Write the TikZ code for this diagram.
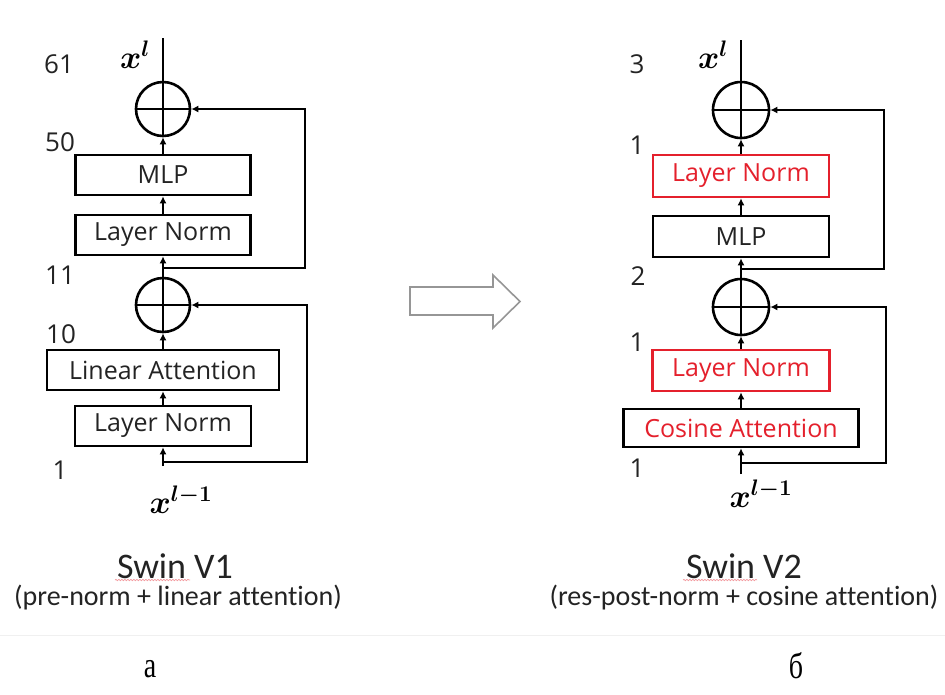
\documentclass[tikz,border=0pt]{standalone}
\usepackage{fontspec}
\usepackage{graphicx}
\usetikzlibrary{arrows.meta,decorations.pathmorphing}
\newfontfamily\boxfont{Open Sans}
\newfontfamily\capfont[Ligatures=CommonOff]{Carlito}
\newfontfamily\cyrfont{Liberation Serif}
\definecolor{normred}{RGB}{228,32,44}
\definecolor{boxtext}{RGB}{35,35,35}
\definecolor{arrowgray}{RGB}{150,150,150}
\newcommand{\bigvec}[1]{\scalebox{1.3}{\boldmath$#1$}}
\tikzset{
  wire/.style={line width=2.4pt, draw=black},
  flow/.style={wire, -{Latex[length=7pt,width=7pt]}},
  blockbox/.style={draw=black, line width=2.6pt, rectangle, inner sep=0pt,
    text=boxtext, font=\boxfont\fontsize{25}{30}\selectfont},
  redbox/.style={blockbox, draw=normred, text=normred},
  redtext/.style={blockbox, text=normred},
  adder/.style={draw=black, line width=2.6pt, circle, inner sep=0pt, minimum size=54pt},
  layerno/.style={text=boxtext, font=\boxfont\fontsize{26}{30}\selectfont, inner sep=0pt},
  vec/.style={font=\fontsize{24}{28}\selectfont, inner sep=0pt},
  title/.style={text=boxtext, font=\capfont\fontsize{36}{40}\selectfont, inner sep=0pt},
  subtitle/.style={text=boxtext, font=\capfont\fontsize{28}{32}\selectfont, inner sep=0pt},
  panel/.style={font=\cyrfont\fontsize{28}{32}\selectfont, inner sep=0pt},
  squiggle/.style={draw=normred!45, line width=0.7pt, decorate,
    decoration={snake, amplitude=0.7pt, segment length=3pt}}
}
\begin{document}
\begin{tikzpicture}[x=1pt,y=-1pt]
\useasboundingbox (0,0) rectangle (945,694);

% ---------- Swin V1 block: pre-norm ----------
\node[adder] (c1) at (163,109) {};
\node[blockbox, minimum width=175pt, minimum height=40pt] (mlp1) at (163,175) {MLP};
\node[blockbox, minimum width=175pt, minimum height=40pt] (ln1) at (163,235) {Layer Norm};
\node[adder] (c2) at (163,305) {};
\node[blockbox, minimum width=232pt, minimum height=40pt] (att1) at (163,370) {Linear Attention};
\node[blockbox, minimum width=176pt, minimum height=40pt] (ln2) at (163,426) {Layer Norm};

\coordinate (top1) at (163,38);
\coordinate (in1) at (163,466);
\coordinate (b1) at (163,268);
\coordinate (r1) at (305,268);
\coordinate (r1t) at (305,109);
\coordinate (b2) at (163,462);
\coordinate (r2) at (307,462);
\coordinate (r2t) at (307,305);

\draw[wire] (c1.south) -- (top1);
\draw[wire] (c1.west) -- (c1.east);
\draw[wire] (c2.south) -- (c2.north);
\draw[wire] (c2.west) -- (c2.east);
\draw[flow] (mlp1.north) -- (c1.south);
\draw[flow] (ln1.north) -- (mlp1.south);
\draw[flow] (c2.north) -- (ln1.south);
\draw[flow] (att1.north) -- (c2.south);
\draw[flow] (ln2.north) -- (att1.south);
\draw[flow] (in1) -- (ln2.south);
\draw[flow] (b1) -- (r1) -- (r1t) -- (c1.east);
\draw[flow] (b2) -- (r2) -- (r2t) -- (c2.east);

\node[layerno] (n61) at (59,64) {61};
\node[layerno] (n50) at (60,142) {50};
\node[layerno] (n11) at (60,275) {11};
\node[layerno] (n10) at (61,334) {10};
\node[layerno] (n1a) at (60,470) {1};
\node[vec] (xl1) at (135,55) {\bigvec{x^{l}}};
\node[vec] (xin1) at (181,500) {\bigvec{x^{l-1}}};

% ---------- Swin V2 block: res-post-norm ----------
\node[adder, minimum size=56pt] (c3) at (741,110) {};
\node[redbox, minimum width=176pt, minimum height=42pt] (rln1) at (741,176) {Layer Norm};
\node[blockbox, minimum width=176pt, minimum height=41pt] (mlp2) at (741,236.5) {MLP};
\node[adder, minimum size=56pt] (c4) at (741,307) {};
\node[redbox, minimum width=177pt, minimum height=41pt] (rln2) at (741,370.5) {Layer Norm};
\node[redtext, minimum width=235pt, minimum height=38pt] (cos) at (741,428) {Cosine Attention};

\coordinate (top2) at (741,40);
\coordinate (in2) at (741,474);
\coordinate (b3) at (741,269);
\coordinate (r3) at (884,269);
\coordinate (r3t) at (884,110);
\coordinate (b4) at (741,463);
\coordinate (r4) at (886,463);
\coordinate (r4t) at (886,307);

\draw[wire] (c3.south) -- (top2);
\draw[wire] (c3.west) -- (c3.east);
\draw[wire] (c4.south) -- (c4.north);
\draw[wire] (c4.west) -- (c4.east);
\draw[flow] (rln1.north) -- (c3.south);
\draw[flow] (mlp2.north) -- (rln1.south);
\draw[flow] (c4.north) -- (mlp2.south);
\draw[flow] (rln2.north) -- (c4.south);
\draw[flow] (cos.north) -- (rln2.south);
\draw[flow] (in2) -- (cos.south);
\draw[flow] (b3) -- (r3) -- (r3t) -- (c3.east);
\draw[flow] (b4) -- (r4) -- (r4t) -- (c4.east);

\node[layerno] (n3) at (637,64) {3};
\node[layerno] (n1b) at (637,145) {1};
\node[layerno] (n2) at (638,276) {2};
\node[layerno] (n1c) at (637,342) {1};
\node[layerno] (n1d) at (637,468) {1};
\node[vec] (xl2) at (713,55) {\bigvec{x^{l}}};
\node[vec] (xin2) at (761,494) {\bigvec{x^{l-1}}};

% ---------- hollow arrow between the two blocks ----------
\draw[draw=arrowgray, line width=1.6pt, line join=miter, fill=white]
  (410,287) -- (493,287) -- (493,275) -- (520,301.5) -- (493,328) -- (493,315) -- (410,315) -- cycle;

% ---------- captions ----------
\node[title] (t1) at (175,566) {Swin V1};
\node[subtitle] (s1) at (178,598) {(pre-norm + linear attention)};
\node[title] (t2) at (744,566) {Swin V2};
\node[subtitle] (s2) at (744,598) {(res-post-norm + cosine attention)};
\draw[squiggle] (115,580) -- (190,580);
\draw[squiggle] (683,580) -- (757,580);

\draw[draw=black!6, line width=1pt] (0,635) -- (945,635);

\node[panel] (pa) at (150,669) {\scalebox{1}[1.3]{а}};
\node[panel] (pb) at (796,666) {\scalebox{1}[1.3]{б}};
\end{tikzpicture}
\end{document}
